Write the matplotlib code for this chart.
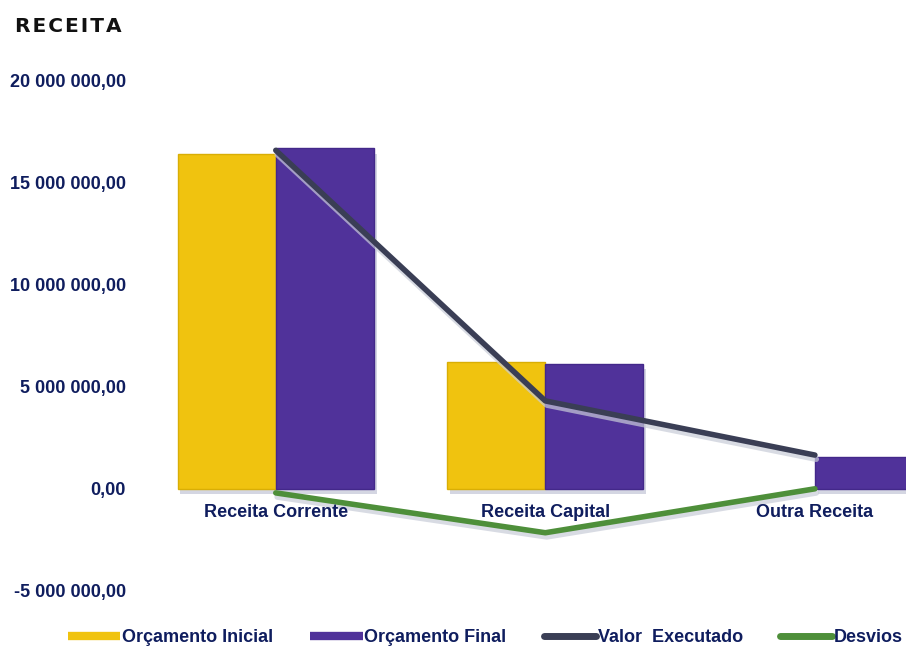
import matplotlib
matplotlib.use('Agg')
import matplotlib.pyplot as plt
import matplotlib.patheffects as pe
from matplotlib.lines import Line2D
import numpy as np

categorias = ['Receita Corrente', 'Receita Capital', 'Outra Receita']
orcamento_inicial = [16_400_000, 6_180_000, 0]
orcamento_final = [16_650_000, 6_130_000, 1_580_000]
valor_executado = [16_560_000, 4_300_000, 1_650_000]
desvios = [-200_000, -2_150_000, 0]
yticks = [-5_000_000, 0, 5_000_000, 10_000_000, 15_000_000, 20_000_000]

amarelo = '#F0C30F'
roxo = '#50329A'
cinza = '#3A3E55'
verde = '#4E8F3A'
azul = '#0F1D5E'

plt.rcParams['font.family'] = ['Liberation Sans', 'DejaVu Sans']

fig = plt.figure(figsize=(9.06, 6.48), dpi=100)
ax = fig.add_axes([141/906, 1 - 591/648, 1 - 141/906, (591 - 80)/648])

x = np.arange(len(categorias))
w = 0.364
sombra = [pe.SimplePatchShadow(offset=(2, -4), shadow_rgbFace='#B8BCD0', alpha=0.6), pe.Normal()]

b1 = ax.bar(x - w/2, orcamento_inicial, w, color=amarelo, edgecolor='#D9AE05', linewidth=1)
b2 = ax.bar(x + w/2, orcamento_final, w, color=roxo, edgecolor='#43288A', linewidth=1)
for b in list(b1) + list(b2):
    if b.get_height() == 0:
        b.set_visible(False)
    b.set_path_effects(sombra)

lsombra = [pe.SimpleLineShadow(offset=(1, -3), shadow_color='#C8CCD8', alpha=0.7), pe.Normal()]
ax.plot(x, valor_executado, color=cinza, lw=4, solid_capstyle='round', path_effects=lsombra, zorder=4)
ax.plot(x, desvios, color=verde, lw=4, solid_capstyle='round', path_effects=lsombra, zorder=4)

ax.set_xlim(-0.5, 2.338)
ax.set_ylim(-5_000_000, 20_000_000)
ax.set_yticks(yticks)
ax.set_yticklabels(['{:,.2f}'.format(v).replace(',', ' ').replace('.', ',') for v in yticks],
                   fontsize=13, fontweight='bold', color=azul)
ax.tick_params(axis='y', length=0, pad=11)
ax.set_xticks([])
for s in ax.spines.values():
    s.set_visible(False)

for xi, c in zip(x, categorias):
    ax.text(xi, -1_180_000, c, ha='center', va='center', fontsize=13, fontweight='bold', color=azul, zorder=5)

fig.text(15/906, 1 - 27/648, '\u200a'.join('RECEITA'), fontsize=14.5, fontweight='bold', family='DejaVu Sans',
         color='#111111', va='center', ha='left')

handles = [
    Line2D([], [], color=amarelo, lw=6, solid_capstyle='butt'),
    Line2D([], [], color=roxo, lw=6, solid_capstyle='butt'),
    Line2D([], [], color=cinza, lw=5, solid_capstyle='round'),
    Line2D([], [], color=verde, lw=5, solid_capstyle='round'),
]
nomes = ['Orçamento Inicial', 'Orçamento Final', 'Valor  Executado', 'Desvios']
leg = fig.legend(handles, nomes, loc='center left', bbox_to_anchor=(68/906, 1 - 638/648),
                 ncol=4, frameon=False, borderpad=0, borderaxespad=0, handlelength=2.9,
                 handletextpad=0.1, columnspacing=2.05,
                 prop={'size': 13, 'weight': 'bold', 'family': 'Liberation Sans'})
for t in leg.get_texts():
    t.set_color(azul)

fig.savefig('out.png', dpi=100)
